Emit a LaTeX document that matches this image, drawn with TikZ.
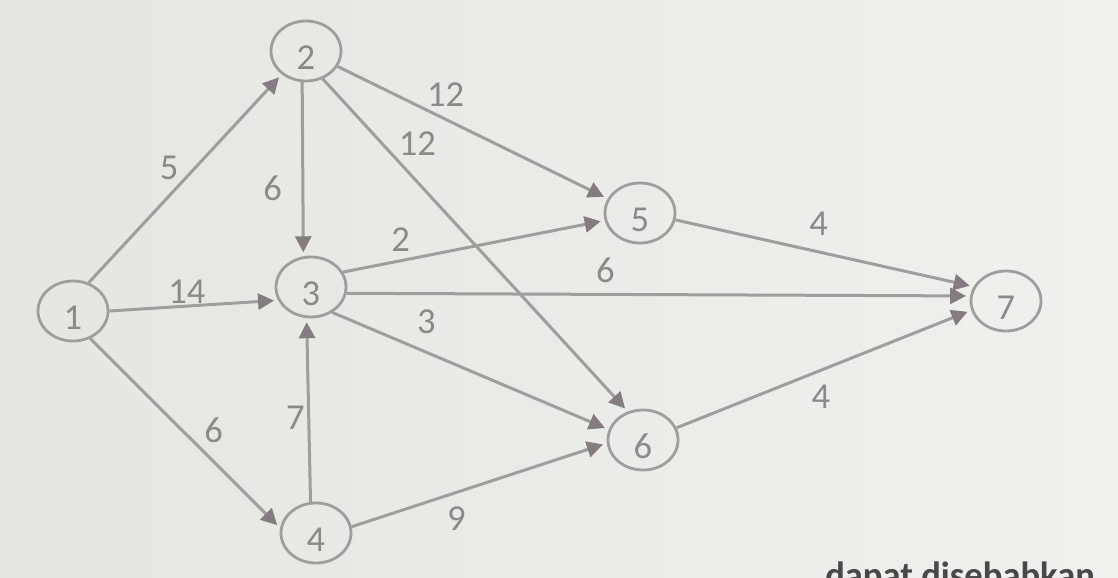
\documentclass[tikz,border=0pt]{standalone}
\usepackage{fontspec}
\setmainfont{Carlito}
\usetikzlibrary{shapes.geometric, arrows.meta}
\usetikzlibrary{positioning}
\definecolor{paperl}{RGB}{229,229,226}
\definecolor{paperr}{RGB}{240,240,238}
\definecolor{edgegray}{RGB}{158,158,158}
\definecolor{tipgray}{RGB}{132,124,128}
\definecolor{labgray}{RGB}{138,138,138}
\definecolor{inkgray}{RGB}{72,72,72}
\tikzstyle{event} = [ellipse, draw=edgegray, line width=0.07cm, minimum width=1.75cm, minimum height=1.5cm, inner sep=0pt, text height=0.925cm, text depth=0pt, text=labgray, font=\fontsize{26}{30}\selectfont]
\tikzstyle{weight} = [inner sep=1pt, text=labgray, font=\fontsize{26}{30}\selectfont]
\tikzstyle{arrow} = [draw=edgegray, line width=0.075cm, -{Triangle[length=0.4cm,width=0.4cm,color=tipgray]}, shorten >=0.1cm]

\begin{document}
\begin{tikzpicture}[x=0.025cm, y=-0.025cm]

\useasboundingbox (0,0) rectangle (1118,578);
\shade [left color=paperl, right color=paperr] (0,0) rectangle (1118,578);

\node (n1) [event] at (73,311) {1};
\node (n2) [event] at (306,51) {2};
\node (n3) [event] at (311,287) {3};
\node (n4) [event] at (316,533) {4};
\node (n5) [event] at (640,213) {5};
\node (n6) [event] at (643,440) {6};
\node (n7) [event] at (1006,301) {7};

\draw [arrow] (n1.61) -- node[weight, pos=0.48, above left] (w12) {5} (n2.224);
\draw [arrow] (n1.east) -- node[weight, pos=0.46, above] (w13) {14} (n3.202);
\draw [arrow] (n1.-58) -- node[weight, pos=0.65, above=0.4cm] (w14) {6} (n4.172);
\draw [arrow] (n2.-97) -- node[weight, pos=0.61, left=0.45cm] (w23) {6} (n3.104);
\draw [arrow] (n2) -- node[weight, pos=0.40, above=0.25cm] (w25) {12} (n5.156);
\draw [arrow] (n2.-59) -- node[weight, pos=0.24, anchor=south west] (w26) {12} (n6.118);
\draw [arrow] (n3.25) -- node[weight, pos=0.22, above=0.15cm] (w35) {2} (n5.192);
\draw [arrow] (n3.-10) -- node[weight, pos=0.415, above=0.21cm] (w37) {6} (n7.172);
\draw [arrow] (n3.-50) -- node[weight, pos=0.34, above=0.4cm] (w36) {3} (n6.163);
\draw [arrow] (n4.100) -- node[weight, pos=0.46, left=0.03cm] (w43) {7} (n3.-98);
\draw [arrow] (n4.10) -- node[weight, pos=0.41, below=0.29cm] (w46) {9} (n6.185);
\draw [arrow] (n5.-11) -- node[weight, pos=0.48, above=0.34cm] (w57) {4} (n7.156);
\draw [arrow] (n6.20) -- node[weight, pos=0.49, below=0.29cm] (w67) {4} (n7.195);

% cut-off line of text under the figure
\begin{scope}
\clip (0,0) rectangle (1118,578);
\node (note) [anchor=base west, inner sep=0pt, text=inkgray, font=\fontsize{26}{30}\selectfont\bfseries] at (825,587) {dapat disebabkan};
\end{scope}

\end{tikzpicture}
\end{document}
